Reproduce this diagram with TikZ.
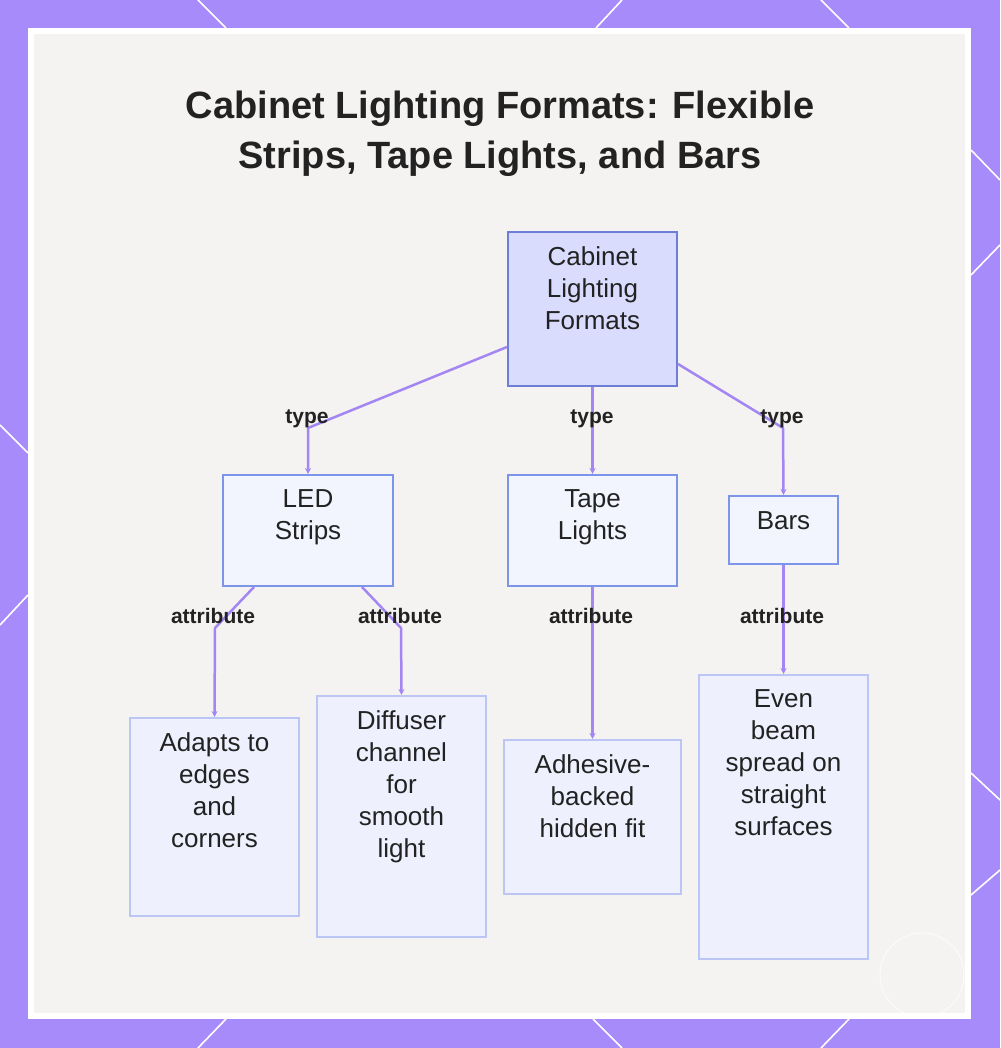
\documentclass[tikz,border=0pt]{standalone}
\usepackage{fontspec}
\setmainfont{Liberation Sans}
\usepackage{tikz}
\usetikzlibrary{arrows.meta}
\tikzset{
  box/.style={line width=2pt, inner sep=0pt, anchor=north},
  boxtext/.style={text=txtColor, align=center, inner sep=0pt, anchor=north, font=\fontsize{26}{32}\selectfont},
  edge/.style={draw=edgeColor, line width=2.5pt, line join=round, -{Stealth[length=6pt,width=6pt]}},
  lbl/.style={text=txtColor, inner sep=0pt, anchor=base, font=\fontsize{21}{24}\selectfont\bfseries}
}

\begin{document}
\begin{tikzpicture}[x=1pt,y=1pt]
\definecolor{bgColor}{RGB}{167,139,250}
\definecolor{panelColor}{RGB}{244,243,241}
\definecolor{txtColor}{RGB}{34,34,34}
\definecolor{edgeColor}{RGB}{163,134,242}
\definecolor{rootFill}{RGB}{217,220,252}
\definecolor{rootLine}{RGB}{108,126,216}
\definecolor{midFill}{RGB}{243,245,254}
\definecolor{midLine}{RGB}{124,149,232}
\definecolor{leafFill}{RGB}{238,241,253}
\definecolor{leafLine}{RGB}{188,198,244}
\path[use as bounding box,fill=bgColor] (0,0) rectangle (1000,1048);

\foreach \xa/\ya/\xb/\yb in {198/1048/226/1020, 622/1048/596/1020, 821/1048/849/1020,
  226/29/198/0, 593/29/622/0, 849/29/821/0,
  971/898/1000/868, 971/773/1000/803, 971/275/1000/248, 971/153/1000/178,
  0/623/28/595, 28/453/0/423}
  \path[draw=white,line width=1.6pt] (\xa,\ya) -- (\xb,\yb);

\path[fill=white] (28,29) rectangle (971,1020);
\path[fill=panelColor] (34,35) rectangle (965,1014);
\path[draw=white,line width=0.8pt,opacity=0.8] (922,73) circle (42);

\node[text=txtColor, align=center, inner sep=0pt, anchor=north, font=\fontsize{38}{50}\selectfont\bfseries] (title) at (500,957)
  {Cabinet Lighting Formats: Flexible\\Strips, Tape Lights, and Bars};

\node[box, draw=rootLine, fill=rootFill, minimum width=169, minimum height=154] (root) at (592.5,817) {};
\node[box, draw=midLine, fill=midFill, minimum width=170, minimum height=111] (led) at (308,574) {};
\node[box, draw=midLine, fill=midFill, minimum width=169, minimum height=111] (tape) at (592.5,574) {};
\node[box, draw=midLine, fill=midFill, minimum width=109, minimum height=68] (bars) at (783.5,553) {};
\node[box, draw=leafLine, fill=leafFill, minimum width=169, minimum height=198] (adapt) at (214.5,331) {};
\node[box, draw=leafLine, fill=leafFill, minimum width=169, minimum height=241] (diffuser) at (401.5,353) {};
\node[box, draw=leafLine, fill=leafFill, minimum width=177, minimum height=154] (adhesive) at (592.5,309) {};
\node[box, draw=leafLine, fill=leafFill, minimum width=169, minimum height=284] (even) at (783.5,374) {};

\node[boxtext] (rootT) at ([yshift=-15]root.north) {Cabinet\\Lighting\\Formats};
\node[boxtext] (ledT) at ([yshift=-15]led.north) {LED\\Strips};
\node[boxtext] (tapeT) at ([yshift=-15]tape.north) {Tape\\Lights};
\node[boxtext] (barsT) at ([yshift=-16]bars.north) {Bars};
\node[boxtext] (adaptT) at ([yshift=-15]adapt.north) {Adapts to\\edges\\and\\corners};
\node[boxtext] (diffuserT) at ([yshift=-15]diffuser.north) {Diffuser\\channel\\for\\smooth\\light};
\node[boxtext] (adhesiveT) at ([yshift=-15]adhesive.north) {Adhesive-\\backed\\hidden fit};
\node[boxtext] (evenT) at ([yshift=-15]even.north) {Even\\beam\\spread on\\straight\\surfaces};

\coordinate (ledBend) at (308,620);
\coordinate (barsBend) at (783,620);
\coordinate (adaptBend) at (215,420);
\coordinate (diffuserBend) at (401,420);

\draw[edge] ([yshift=40]root.south west) -- (ledBend) -- (led.north);
\draw[edge] (root.south) -- (tape.north);
\draw[edge] ([yshift=23]root.south east) -- (barsBend) -- (bars.north);
\draw[edge] ([xshift=32]led.south west) -- (adaptBend) -- (adapt.north);
\draw[edge] ([xshift=-32]led.south east) -- (diffuserBend) -- (diffuser.north);
\draw[edge] (tape.south) -- (adhesive.north);
\draw[edge] (bars.south) -- (even.north);

\node[lbl] (ledL) at (307,624) {type};
\node[lbl] (tapeL) at (592,624) {type};
\node[lbl] (barsL) at (782,624) {type};
\node[lbl] (adaptL) at (213,424) {attribute};
\node[lbl] (diffuserL) at (400,424) {attribute};
\node[lbl] (adhesiveL) at (591,424) {attribute};
\node[lbl] (evenL) at (782,424) {attribute};
\end{tikzpicture}
\end{document}
